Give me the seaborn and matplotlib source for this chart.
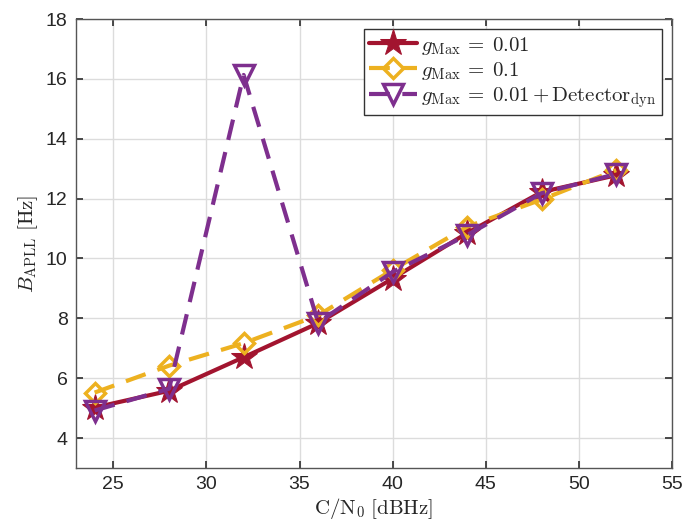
import matplotlib
matplotlib.use("Agg")
import matplotlib.pyplot as plt
import seaborn as sns
import pandas as pd

cn0 = [24, 28, 32, 36, 40, 44, 48, 52]
g001 = [5.02, 5.58, 6.7, 7.84, 9.33, 10.85, 12.22, 12.78]
g01 = [5.52, 6.42, 7.17, 8.1, 9.62, 11.06, 11.97, 12.95]
g001_det = [4.92, 5.65, 16.13, 7.86, 9.55, 10.78, 12.18, 12.82]

labels = [r'$g_{\mathrm{Max}}\,{=}\;0.01$', r'$g_{\mathrm{Max}}\,{=}\;0.1$',
          r'$g_{\mathrm{Max}}\,{=}\;0.01\,{+}\,\mathrm{Detector}_{\mathrm{dyn}}$']
colors = ['#A2142F', '#EDB120', '#7E2F8E']

sns.set_theme(style="whitegrid")
plt.rcParams['font.family'] = ['Liberation Sans', 'DejaVu Sans']
plt.rcParams['mathtext.fontset'] = 'cm'

fig = plt.figure(figsize=(6.83, 5.25), dpi=100)
ax = fig.add_axes([76/683, 1-468/525, (672-76)/683, (468-19)/525])

dash = (0, (5, 3))
styles = [dict(marker='*', linestyle='-', markersize=20, markerfacecolor=colors[0], markeredgecolor=colors[0]),
          dict(marker='D', linestyle=dash, markersize=10, markerfacecolor='none', markeredgecolor=colors[1], markeredgewidth=2.5),
          dict(marker='v', linestyle=dash, markersize=15, markerfacecolor='none', markeredgecolor=colors[2], markeredgewidth=2.5)]

for ys, lab, c, st in zip([g001, g01, g001_det], labels, colors, styles):
    df = pd.DataFrame({'x': cn0, 'y': ys})
    sns.lineplot(data=df, x='x', y='y', ax=ax, color=c, linewidth=3, label=lab, **st)

ax.set_xlim(23, 55)
ax.set_ylim(3, 18)
ax.set_xticks([25, 30, 35, 40, 45, 50, 55])
ax.set_yticks([4, 6, 8, 10, 12, 14, 16, 18])
ax.grid(True, color='#dcdcdc', linewidth=1)
for s in ax.spines.values():
    s.set_visible(True)
    s.set_color('#555555')
    s.set_linewidth(1)
ax.tick_params(axis='both', direction='in', length=5, color='#333333', labelsize=14,
               labelcolor='#262626', top=True, right=True, bottom=True, left=True, pad=6)
ax.set_xlabel(r'$\mathrm{C/N_0\ [dBHz]}$', fontsize=15, color='#262626', labelpad=2)
ax.set_ylabel(r'$B_{\mathrm{APLL}}\ [\mathrm{Hz}]$', fontsize=15, color='#262626', labelpad=4)

leg = ax.legend(loc='upper right', fontsize=15, frameon=True, fancybox=False,
                edgecolor='#333333', framealpha=1, handlelength=2.3, borderpad=0.25,
                labelspacing=0.15, handletextpad=0.2, borderaxespad=0.5)
leg.get_frame().set_linewidth(1)

fig.savefig('out.png', dpi=100)
